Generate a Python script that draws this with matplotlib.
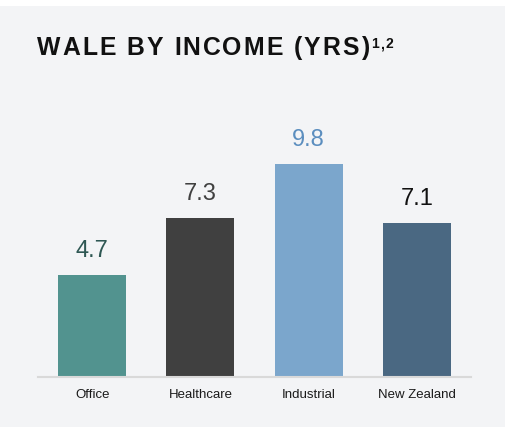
import matplotlib.pyplot as plt
from matplotlib.patches import Rectangle

categories = ['Office', 'Healthcare', 'Industrial', 'New Zealand']
wale = [4.7, 7.3, 9.8, 7.1]
bar_colors = ['#52938f', '#404040', '#7ba6cc', '#4a6882']
label_colors = ['#2e5753', '#404040', '#5b8ebf', '#111111']
title = 'WALE BY INCOME (YRS)'
title_note = '1,2'

W, H = 513, 429
fig = plt.figure(figsize=(W / 100, H / 100), dpi=100)
fig.patch.set_facecolor('white')
renderer = fig.canvas.get_renderer()

# gray card behind everything
fig.patches.append(Rectangle((0, 2 / H), 505 / W, 421 / H, transform=fig.transFigure,
                             facecolor='#f3f4f6', edgecolor='none', zorder=-10))

# axes: x from 38 to 471 px, baseline at y=377 px, 21.75 px per year
ymax = 12
ax = fig.add_axes([38 / W, (H - 377) / H, 433 / W, ymax * 21.75 / H])
ax.set_facecolor('none')
x = range(len(categories))
ax.bar(x, wale, width=0.628, color=bar_colors, zorder=2)
ax.set_xlim(-0.5, 3.5)
ax.set_ylim(0, ymax)

for i, v in enumerate(wale):
    ax.annotate(f'{v:.1f}', (i, v), xytext=(0, 13), textcoords='offset points',
                ha='center', va='baseline', fontsize=17, color=label_colors[i],
                family='Liberation Sans')

ax.set_xticks(list(x))
ax.set_xticklabels(categories, fontsize=9.5, family='Liberation Sans', color='#1a1a1a')
ax.tick_params(axis='x', length=0, pad=9)
ax.set_yticks([])
for s in ['top', 'right', 'left']:
    ax.spines[s].set_visible(False)
ax.spines['bottom'].set_color('#d9d9d9')
ax.spines['bottom'].set_linewidth(1.5)


def char_width(ch, **kw):
    if ch == ' ':
        a = fig.text(0, 0, 'a a', **kw)
        b = fig.text(0, 0, 'aa', **kw)
        w = a.get_window_extent(renderer).width - b.get_window_extent(renderer).width
        a.remove()
        b.remove()
        return w
    t = fig.text(0, 0, ch, **kw)
    w = t.get_window_extent(renderer).width
    t.remove()
    return w


def spaced_text(x_px, y_px, s, spacing, **kw):
    # draw string char by char with extra tracking (pixels)
    cur = x_px
    for ch in s:
        if ch != ' ':
            fig.text(cur / W, 1 - y_px / H, ch, va='baseline', **kw)
        cur += char_width(ch, **kw) + spacing
    return cur - spacing


end = spaced_text(37, 55, title, 2.0, fontsize=17.8, fontweight='bold',
                  family='Liberation Sans', color='#111111')
spaced_text(end + 2, 48.5, title_note, 1.2, fontsize=10, fontweight='bold',
            family='Liberation Sans', color='#111111')

fig.savefig('out.png', dpi=100, facecolor=fig.get_facecolor())
